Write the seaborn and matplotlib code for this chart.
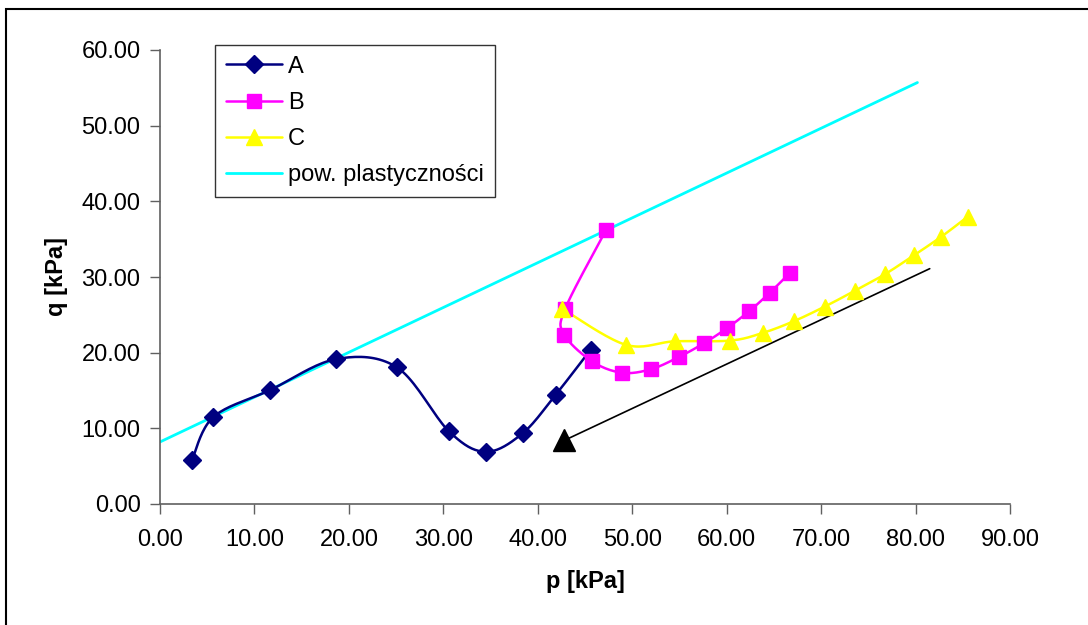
import numpy as np
import pandas as pd
import matplotlib
matplotlib.use("Agg")
import matplotlib.pyplot as plt
from matplotlib.lines import Line2D
from matplotlib.patches import Rectangle
import seaborn as sns

# ---- data ----
p_A = [3.4, 5.65, 11.65, 18.64, 25.1, 30.6, 34.5, 38.4, 41.9, 45.6]
q_A = [5.85, 11.5, 15.05, 19.15, 18.05, 9.6, 6.9, 9.35, 14.45, 20.4]

p_B = [47.2, 42.9, 42.8, 45.75, 48.9, 51.95, 54.9, 57.6, 60.05, 62.4, 64.55, 66.7]
q_B = [36.15, 25.8, 22.4, 18.85, 17.35, 17.8, 19.4, 21.25, 23.25, 25.5, 27.9, 30.55]

p_C = [42.6, 49.3, 54.5, 60.4, 63.8, 67.1, 70.4, 73.6, 76.8, 79.8, 82.7, 85.5]
q_C = [25.8, 21.05, 21.5, 21.6, 22.6, 24.15, 26.1, 28.2, 30.4, 32.85, 35.3, 37.95]

p_line = [0.0, 80.2]
q_line = [8.2, 55.7]

arrow_p = [81.5, 42.8]
arrow_q = [31.1, 8.4]

x_ticks = [0, 10, 20, 30, 40, 50, 60, 70, 80, 90]
y_ticks = [0, 10, 20, 30, 40, 50, 60]

names = ["A", "B", "C", "pow. plastyczności"]
colors = ["#000080", "#FF00FF", "#FFFF00", "#00FFFF"]


def smooth(px, py, n=20):
    """Catmull-Rom style Bezier smoothing like spreadsheet smoothed lines."""
    P = np.column_stack([px, py]).astype(float)
    m = len(P)
    out = []
    for i in range(m - 1):
        p0 = P[i - 1] if i > 0 else P[i]
        p1 = P[i]
        p2 = P[i + 1]
        p3 = P[i + 2] if i + 2 < m else P[i + 1]
        b1 = p1 + (p2 - p0) / 6.0
        b2 = p2 - (p3 - p1) / 6.0
        t = np.linspace(0, 1, n, endpoint=(i == m - 2))[:, None]
        seg = ((1 - t) ** 3) * p1 + 3 * ((1 - t) ** 2) * t * b1 + 3 * (1 - t) * t ** 2 * b2 + t ** 3 * p2
        out.append(seg)
    S = np.vstack(out)
    return S[:, 0], S[:, 1]


sns.set_style("white")
plt.rcParams["font.family"] = ["Liberation Sans", "DejaVu Sans"]
plt.rcParams["text.color"] = "black"
plt.rcParams["axes.labelcolor"] = "black"
plt.rcParams["xtick.color"] = "black"
plt.rcParams["ytick.color"] = "black"

fig = plt.figure(figsize=(10.88, 6.25), dpi=100)
ax = fig.add_axes([160 / 1088, 1 - 504 / 625, 850 / 1088, 454 / 625])

# outer frame of the chart area (cropped at right and bottom)
fig.patches.append(Rectangle((6 / 1088, -0.05), 1.2, 1 - 9 / 625 + 0.05,
                             transform=fig.transFigure, fill=False,
                             edgecolor="black", linewidth=1.5))

# yield surface line
df_line = pd.DataFrame({"p": p_line, "q": q_line})
sns.lineplot(data=df_line, x="p", y="q", ax=ax, color=colors[3], linewidth=2, sort=False)

series = [(p_A, q_A, "D", 9, colors[0]),
          (p_B, q_B, "s", 10.5, colors[1]),
          (p_C, q_C, "^", 12, colors[2])]

for px, py, mk, ms, col in series:
    sx, sy = smooth(px, py)
    sns.lineplot(x=sx, y=sy, ax=ax, color=col, linewidth=1.8, sort=False, estimator=None)
    ax.plot(px, py, linestyle="none", marker=mk, markersize=ms,
            markerfacecolor=col, markeredgecolor=col, zorder=5)

# direction arrow
sns.lineplot(x=arrow_p, y=arrow_q, ax=ax, color="black", linewidth=1.2, sort=False, estimator=None)
ax.plot(arrow_p[-1:], arrow_q[-1:], linestyle="none", marker="^", markersize=16,
        color="black", zorder=6)

ax.set_xlim(0, 90)
ax.set_ylim(0, 60)
ax.set_xticks(x_ticks)
ax.set_yticks(y_ticks)
ax.set_xticklabels([f"{v:.2f}" for v in x_ticks], fontsize=17, color="black")
ax.set_yticklabels([f"{v:.2f}" for v in y_ticks], fontsize=17, color="black")
ax.tick_params(axis="both", direction="out", length=7, width=1, color="#606060",
               bottom=True, left=True)
ax.tick_params(axis="x", pad=11)
ax.tick_params(axis="y", pad=7)
for s in ["top", "right"]:
    ax.spines[s].set_visible(False)
for s in ["left", "bottom"]:
    ax.spines[s].set_color("#606060")
    ax.spines[s].set_linewidth(1.2)

ax.set_xlabel("p [kPa]", fontsize=17, fontweight="bold", labelpad=14, color="black")
ax.set_ylabel("q [kPa]", fontsize=17, fontweight="bold", labelpad=10, color="black")

handles = [
    Line2D([], [], color=colors[0], lw=1.8, marker="D", markersize=9, markerfacecolor=colors[0]),
    Line2D([], [], color=colors[1], lw=1.8, marker="s", markersize=10.5, markerfacecolor=colors[1]),
    Line2D([], [], color=colors[2], lw=1.8, marker="^", markersize=12, markerfacecolor=colors[2]),
    Line2D([], [], color=colors[3], lw=2),
]
leg = ax.legend(handles, names, loc="upper left", bbox_to_anchor=(55 / 850, 1.011),
                fontsize=17, frameon=True, fancybox=False, edgecolor="black",
                handlelength=2.4, handletextpad=0.25, borderpad=0.45,
                labelspacing=0.6, borderaxespad=0)
leg.get_frame().set_linewidth(1.0)
for t in leg.get_texts():
    t.set_color("black")

fig.savefig("out.png", dpi=100)
